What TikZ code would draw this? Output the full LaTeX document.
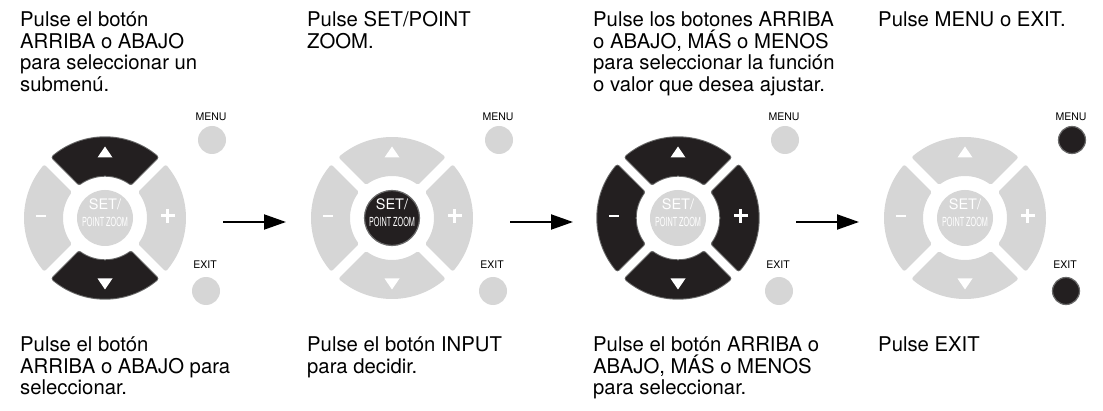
\documentclass[tikz,border=0pt]{standalone}
\usepackage{fontspec}
\setmainfont{TeX Gyre Heros}
\usepackage{graphicx}
\usetikzlibrary{arrows.meta,calc}
\definecolor{lg}{HTML}{D6D6D6}
\definecolor{dk}{HTML}{231F20}
\definecolor{rim}{HTML}{6A6A6A}
% one direction key of the pad: #1 centre, #2 rotation, #3 style
\newcommand\padkey[3]{\path[#3,shift={(#1)},rotate=#2] (-39.9:79) arc[start angle=-39.9,end angle=39.9,radius=79] -- (35.85:44) arc[start angle=35.85,end angle=-35.85,radius=44] -- cycle;}
% white glyphs of a pad: #1 centre
\newcommand\padglyphs[1]{%
  \fill[white] ($(#1)+(-7.5,60.5)$) -- ($(#1)+(7.5,60.5)$) -- ($(#1)+(0,71.5)$) -- cycle;
  \fill[white] ($(#1)+(-7.5,-60.5)$) -- ($(#1)+(7.5,-60.5)$) -- ($(#1)+(0,-71.5)$) -- cycle;
  \fill[white] ($(#1)+(-69.5,0.8)$) rectangle ($(#1)+(-59.5,3.2)$);
  \fill[white] ($(#1)+(55.5,0.5)$) rectangle ($(#1)+(69.5,3.5)$);
  \fill[white] ($(#1)+(61,-5)$) rectangle ($(#1)+(64,9)$);
  \node[settxt,anchor=base] at ($(#1)+(0,8.5)$) {SET/};
  \node[zoomtxt,anchor=base] at ($(#1)+(0,-8.3)$) {\scalebox{0.58}[1]{POINT ZOOM}};
}
\begin{document}
\begin{tikzpicture}[x=1pt,y=1pt,
  txt/.style={font=\fontsize{20.3}{21.5}\selectfont, align=left, inner sep=0pt, anchor=base west},
  litkey/.style={fill=lg, draw=lg, line width=4pt, line join=round},
  darkkey/.style={fill=dk, draw=dk, line width=3.4pt, line join=round, preaction={draw=rim, line width=5.4pt, line join=round}},
  litset/.style={circle, fill=lg, minimum size=56pt, inner sep=0pt},
  darkset/.style={circle, fill=dk, draw=rim, line width=1.2pt, minimum size=55pt, inner sep=0pt},
  litbtn/.style={circle, fill=lg, minimum size=28pt, inner sep=0pt},
  darkbtn/.style={circle, fill=dk, draw=rim, line width=1.2pt, minimum size=27pt, inner sep=0pt},
  lbl/.style={font=\fontsize{10.5}{10.5}\selectfont, inner sep=0pt, anchor=base},
  settxt/.style={text=white, font=\fontsize{14.5}{14.5}\selectfont, inner sep=0pt},
  zoomtxt/.style={text=white, font=\fontsize{12.5}{12.5}\selectfont, inner sep=0pt},
  flow/.style={line width=2pt, -{Triangle[length=22pt,width=15pt]}}
]
\useasboundingbox (0,0) rectangle (1103,410);
% pad centres
\coordinate (p1) at (105,192);
\coordinate (p2) at (392,192);
\coordinate (p3) at (678,192);
\coordinate (p4) at (965,192);
% ---- pad 1
\padkey{p1}{90}{darkkey}\padkey{p1}{270}{darkkey}\padkey{p1}{0}{litkey}\padkey{p1}{180}{litkey}
\node[litset] (s1) at (p1) {};
\padglyphs{p1}
% ---- pad 2
\padkey{p2}{90}{litkey}\padkey{p2}{270}{litkey}\padkey{p2}{0}{litkey}\padkey{p2}{180}{litkey}
\node[darkset] (s2) at (p2) {};
\padglyphs{p2}
% ---- pad 3
\padkey{p3}{90}{darkkey}\padkey{p3}{270}{darkkey}\padkey{p3}{0}{darkkey}\padkey{p3}{180}{darkkey}
\node[litset] (s3) at (p3) {};
\padglyphs{p3}
% ---- pad 4
\padkey{p4}{90}{litkey}\padkey{p4}{270}{litkey}\padkey{p4}{0}{litkey}\padkey{p4}{180}{litkey}
\node[litset] (s4) at (p4) {};
\padglyphs{p4}
% ---- MENU / EXIT buttons
\node[litbtn]  (m1) at ($(p1)+(107,78)$) {};
\node[litbtn]  (e1) at ($(p1)+(101,-73)$) {};
\node[litbtn]  (m2) at ($(p2)+(107,78)$) {};
\node[litbtn]  (e2) at ($(p2)+(101,-73)$) {};
\node[litbtn]  (m3) at ($(p3)+(107,78)$) {};
\node[litbtn]  (e3) at ($(p3)+(101,-73)$) {};
\node[darkbtn] (m4) at ($(p4)+(107,78)$) {};
\node[darkbtn] (e4) at ($(p4)+(101,-73)$) {};
\foreach \i in {1,2,3,4}{
  \node[lbl] (ml\i) at ($(m\i)+(-1,19)$) {MENU};
  \node[lbl] (el\i) at ($(e\i)+(-1,22)$) {EXIT};
}
% ---- arrows
\coordinate (a1s) at ($(p1)+(118,-4)$); \coordinate (a1e) at ($(p1)+(181,-4)$);
\coordinate (a2s) at ($(p2)+(118,-4)$); \coordinate (a2e) at ($(p2)+(181,-4)$);
\coordinate (a3s) at ($(p3)+(118,-4)$); \coordinate (a3e) at ($(p3)+(181,-4)$);
\draw[flow] (a1s) -- (a1e);
\draw[flow] (a2s) -- (a2e);
\draw[flow] (a3s) -- (a3e);
% ---- texts above (anchor = baseline of the last line)
\node[txt] (t1) at (20,318.8) {Pulse el botón\\ARRIBA o ABAJO\\para seleccionar un\\submenú.};
\node[txt] (t2) at (307,361.8) {Pulse SET/POINT\\ZOOM.};
\node[txt] (t3) at (593,318.8) {Pulse los botones ARRIBA\\o ABAJO, MÁS o MENOS\\para seleccionar la función\\o valor que desea ajustar.};
\node[txt] (t4) at (878,383.3) {Pulse MENU o EXIT.};
% ---- texts below
\node[txt] (b1) at (20,15.3) {Pulse el botón\\ARRIBA o ABAJO para\\seleccionar.};
\node[txt] (b2) at (307,36.8) {Pulse el botón INPUT\\para decidir.};
\node[txt] (b3) at (593,15.3) {Pulse el botón ARRIBA o\\ABAJO, MÁS o MENOS\\para seleccionar.};
\node[txt] (b4) at (878,58.3) {Pulse EXIT};
\end{tikzpicture}
\end{document}
